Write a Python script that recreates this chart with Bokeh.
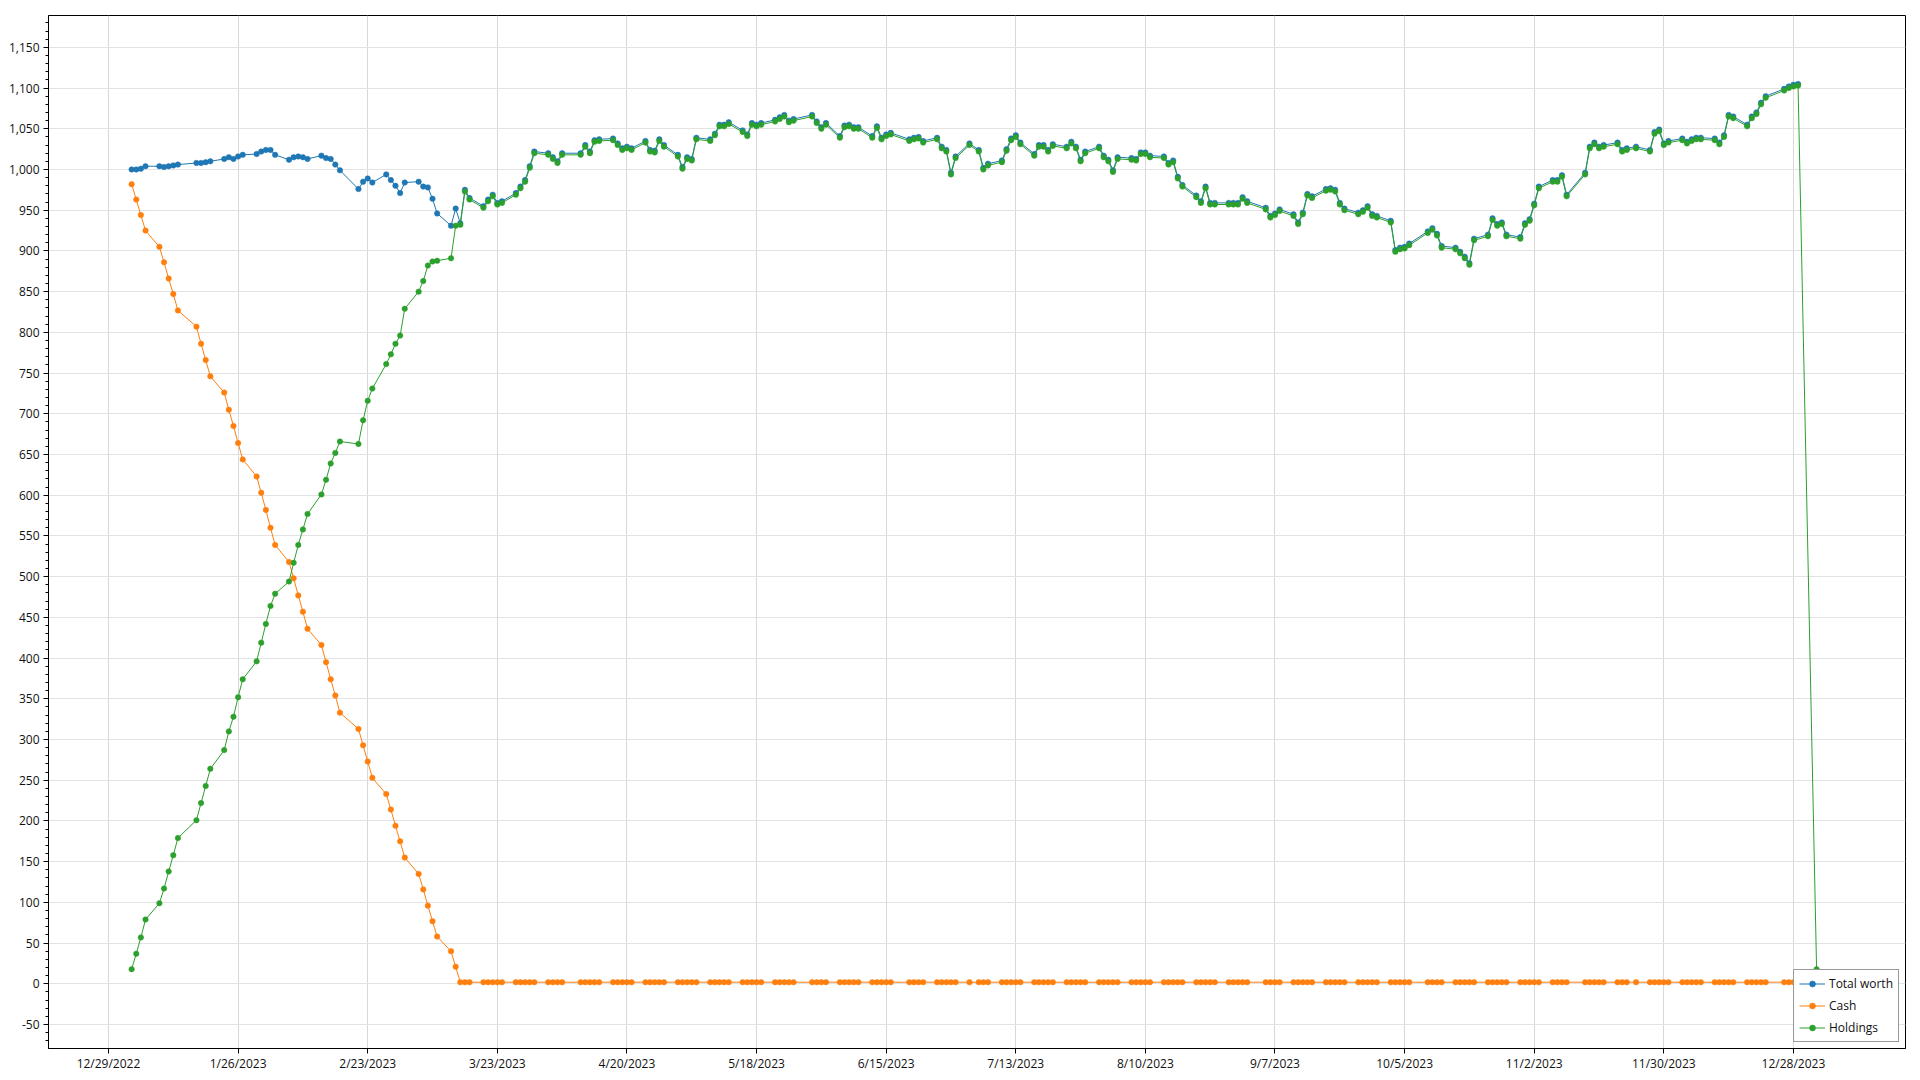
import pandas as pd
from bokeh.plotting import figure
from bokeh.models import Range1d, FixedTicker, NumeralTickFormatter, Legend, LegendItem, ColumnDataSource
from bokeh.embed import file_html
from bokeh.resources import INLINE

# ---------------- data ----------------
# trading days of 2023 (day of month), per month
days_jan = [3, 4, 5, 6, 9, 10, 11, 12, 13, 17, 18, 19, 20, 23, 24, 25, 26, 27, 30, 31]
days_feb = [1, 2, 3, 6, 7, 8, 9, 10, 13, 14, 15, 16, 17, 21, 22, 23, 24, 27, 28]
days_mar = [1, 2, 3, 6, 7, 8, 9, 10, 13, 14, 15, 16, 17, 20, 21, 22, 23, 24, 27, 28, 29, 30, 31]
days_apr = [3, 4, 5, 6, 10, 11, 12, 13, 14, 17, 18, 19, 20, 21, 24, 25, 26, 27, 28]
days_may = [1, 2, 3, 4, 5, 8, 9, 10, 11, 12, 15, 16, 17, 18, 19, 22, 23, 24, 25, 26, 30, 31]
days_jun = [1, 2, 5, 6, 7, 8, 9, 12, 13, 14, 15, 16, 20, 21, 22, 23, 26, 27, 28, 29, 30]
days_jul = [3, 5, 6, 7, 10, 11, 12, 13, 14, 17, 18, 19, 20, 21, 24, 25, 26, 27, 28, 31]
days_aug = [1, 2, 3, 4, 7, 8, 9, 10, 11, 14, 15, 16, 17, 18, 21, 22, 23, 24, 25, 28, 29, 30, 31]
days_sep = [1, 5, 6, 7, 8, 11, 12, 13, 14, 15, 18, 19, 20, 21, 22, 25, 26, 27, 28, 29]
days_oct = [2, 3, 4, 5, 6, 10, 11, 12, 13, 16, 17, 18, 19, 20, 23, 24, 25, 26, 27, 30, 31]
days_nov = [1, 2, 3, 6, 7, 8, 9, 13, 14, 15, 16, 17, 20, 21, 22, 24, 27, 28, 29, 30]
days_dec = [1, 4, 5, 6, 7, 8, 11, 12, 13, 14, 15, 18, 19, 20, 21, 22, 26, 27, 28, 29]
holdings_extra_date = "2024-01-02"

total_worth = [
    # Jan
    1000, 1000, 1001, 1004, 1004, 1003, 1004, 1005, 1006, 1008, 1008, 1009, 1010, 1013, 1015, 1013, 1016, 1018, 1019, 1022,
    # Feb
    1024, 1024, 1018, 1012, 1015, 1016, 1015, 1013, 1017, 1014, 1013, 1006, 999, 976, 985, 989, 984, 994, 987,
    # Mar
    980, 971, 984, 985, 979, 978, 964, 946, 931, 952, 934, 975, 965, 955, 963, 969, 959, 961, 971, 979, 987, 1004, 1022,
    # Apr
    1020, 1015, 1010, 1020, 1020, 1030, 1022, 1036, 1037, 1038, 1032, 1026, 1028, 1026, 1035, 1024, 1023, 1037, 1030,
    # May
    1018, 1003, 1015, 1013, 1039, 1037, 1044, 1055, 1055, 1058, 1048, 1043, 1057, 1055, 1057, 1061, 1064, 1067, 1060, 1062, 1067, 1059,
    # Jun
    1052, 1057, 1041, 1054, 1055, 1052, 1052, 1041, 1053, 1039, 1043, 1045, 1037, 1039, 1040, 1035, 1039, 1028, 1024, 996, 1016,
    # Jul
    1032, 1024, 1002, 1007, 1011, 1025, 1038, 1042, 1033, 1019, 1030, 1030, 1024, 1031, 1028, 1034, 1028, 1012, 1022, 1028,
    # Aug
    1017, 1012, 999, 1015, 1014, 1013, 1021, 1021, 1017, 1016, 1008, 1011, 991, 981, 968, 961, 979, 959, 959, 959, 959, 959, 966,
    # Sep
    961, 953, 943, 946, 951, 945, 935, 947, 970, 967, 976, 977, 975, 959, 952, 947, 950, 955, 945, 943,
    # Oct
    937, 901, 904, 905, 909, 924, 928, 921, 906, 904, 899, 893, 885, 915, 920, 940, 933, 935, 920, 917, 934,
    # Nov
    939, 958, 979, 987, 987, 993, 969, 996, 1028, 1033, 1028, 1030, 1033, 1024, 1026, 1028, 1024, 1046, 1049, 1032,
    # Dec
    1035, 1038, 1034, 1037, 1039, 1039, 1038, 1033, 1042, 1067, 1065, 1055, 1065, 1070, 1082, 1090, 1099, 1102, 1104, 1105,
]

cash = [
    # Jan
    982, 963, 944, 925, 905, 886, 866, 847, 827, 807, 786, 766, 746, 726, 705, 685, 664, 644, 623, 603,
    # Feb
    582, 560, 539, 518, 498, 477, 457, 436, 416, 395, 374, 354, 333, 313, 293, 273, 253, 233, 214,
    # Mar
    194, 175, 155, 135, 116, 96, 77, 58, 40, 21, 2, 2, 2, 2, 2, 2, 2, 2, 2, 2, 2, 2, 2,
    # Apr
    2, 2, 2, 2, 2, 2, 2, 2, 2, 2, 2, 2, 2, 2, 2, 2, 2, 2, 2,
    # May
    2, 2, 2, 2, 2, 2, 2, 2, 2, 2, 2, 2, 2, 2, 2, 2, 2, 2, 2, 2, 2, 2,
    # Jun
    2, 2, 2, 2, 2, 2, 2, 2, 2, 2, 2, 2, 2, 2, 2, 2, 2, 2, 2, 2, 2,
    # Jul
    2, 2, 2, 2, 2, 2, 2, 2, 2, 2, 2, 2, 2, 2, 2, 2, 2, 2, 2, 2,
    # Aug
    2, 2, 2, 2, 2, 2, 2, 2, 2, 2, 2, 2, 2, 2, 2, 2, 2, 2, 2, 2, 2, 2, 2,
    # Sep
    2, 2, 2, 2, 2, 2, 2, 2, 2, 2, 2, 2, 2, 2, 2, 2, 2, 2, 2, 2,
    # Oct
    2, 2, 2, 2, 2, 2, 2, 2, 2, 2, 2, 2, 2, 2, 2, 2, 2, 2, 2, 2, 2,
    # Nov
    2, 2, 2, 2, 2, 2, 2, 2, 2, 2, 2, 2, 2, 2, 2, 2, 2, 2, 2, 2,
    # Dec
    2, 2, 2, 2, 2, 2, 2, 2, 2, 2, 2, 2, 2, 2, 2, 2, 2, 2, 2, 2,
]

holdings = [
    # Jan
    18, 37, 57, 79, 99, 117, 138, 158, 179, 201, 222, 243, 264, 287, 310, 328, 352, 374, 396, 419,
    # Feb
    442, 464, 479, 494, 517, 539, 558, 577, 601, 619, 639, 652, 666, 663, 692, 716, 731, 761, 773,
    # Mar
    786, 796, 829, 850, 863, 882, 887, 888, 891, 931, 932, 973, 963, 953, 961, 967, 957, 959, 969, 977, 985, 1002, 1020,
    # Apr
    1018, 1013, 1008, 1018, 1018, 1028, 1020, 1034, 1035, 1036, 1030, 1024, 1026, 1024, 1033, 1022, 1021, 1035, 1028,
    # May
    1016, 1001, 1013, 1011, 1037, 1035, 1042, 1053, 1053, 1056, 1046, 1041, 1055, 1053, 1055, 1059, 1062, 1065, 1058, 1060, 1065, 1057,
    # Jun
    1050, 1055, 1039, 1052, 1053, 1050, 1050, 1039, 1051, 1037, 1041, 1043, 1035, 1037, 1038, 1033, 1037, 1026, 1022, 994, 1014,
    # Jul
    1030, 1022, 1000, 1005, 1009, 1023, 1036, 1040, 1031, 1017, 1028, 1028, 1022, 1029, 1026, 1032, 1026, 1010, 1020, 1026,
    # Aug
    1015, 1010, 997, 1013, 1012, 1011, 1019, 1019, 1015, 1014, 1006, 1009, 989, 979, 966, 959, 977, 957, 957, 957, 957, 957, 964,
    # Sep
    959, 951, 941, 944, 949, 943, 933, 945, 968, 965, 974, 975, 973, 957, 950, 945, 948, 953, 943, 941,
    # Oct
    935, 899, 902, 903, 907, 922, 926, 919, 904, 902, 897, 891, 883, 913, 918, 938, 931, 933, 918, 915, 932,
    # Nov
    937, 956, 977, 985, 985, 991, 967, 994, 1026, 1031, 1026, 1028, 1031, 1022, 1024, 1026, 1022, 1044, 1047, 1030,
    # Dec
    1033, 1036, 1032, 1035, 1037, 1037, 1036, 1031, 1040, 1065, 1063, 1053, 1063, 1068, 1080, 1088, 1097, 1100, 1102, 1103,
    # first day of 2024
    18,
]

series_names = ["Total worth", "Cash", "Holdings"]
series_colors = ["#1f77b4", "#ff7f0e", "#2ca02c"]

# ---------------- build dates ----------------
month_days = [days_jan, days_feb, days_mar, days_apr, days_may, days_jun,
              days_jul, days_aug, days_sep, days_oct, days_nov, days_dec]
dates = []
for m, dl in enumerate(month_days, start=1):
    for d in dl:
        dates.append(pd.Timestamp(2023, m, d))
holdings_dates = dates + [pd.Timestamp(holdings_extra_date)]

assert len(dates) == len(total_worth) == len(cash), (len(dates), len(total_worth), len(cash))
assert len(holdings_dates) == len(holdings)

FONT = "Open Sans"

p = figure(
    width=1920, height=1080,
    x_axis_type="datetime",
    x_range=Range1d(pd.Timestamp("2022-12-16 01:00"), pd.Timestamp("2024-01-21 05:00")),
    y_range=Range1d(-79.4, 1189.1),
    output_backend="svg", toolbar_location=None,
    min_border_left=48, min_border_right=15, min_border_top=15, min_border_bottom=32,
)
p.background_fill_color = "white"
p.border_fill_color = "white"
p.outline_line_color = "black"
p.outline_line_width = 1
p.outline_line_alpha = 1

# x ticks every 4 weeks
tick_dates = pd.date_range("2022-12-29", periods=14, freq="28D")
tick_ms = [float(d.value // 10**6) for d in tick_dates]
p.xaxis.ticker = FixedTicker(ticks=tick_ms, minor_ticks=[])
p.xaxis.major_label_overrides = {t: f"{d.month}/{d.day}/{d.year}" for t, d in zip(tick_ms, tick_dates)}

p.yaxis.ticker = FixedTicker(ticks=list(range(-50, 1151, 50)), minor_ticks=list(range(-70, 1190, 10)))
p.yaxis.formatter = NumeralTickFormatter(format="0,0")

for ax in (p.xaxis[0], p.yaxis[0]):
    ax.axis_line_color = "black"
    ax.axis_line_width = 1
    ax.major_tick_line_color = "black"
    ax.minor_tick_line_color = "black"
    ax.major_tick_in = 0
    ax.major_tick_out = 5
    ax.minor_tick_in = 0
    ax.minor_tick_out = 3
    ax.major_label_text_font = FONT
    ax.major_label_text_font_size = "12px"
    ax.major_label_text_color = "#111111"
p.xaxis.major_label_standoff = 1
p.yaxis.major_label_standoff = 4

p.xgrid.grid_line_color = "#d9d9d9"
p.ygrid.grid_line_color = "#e3e3e3"

items = []
for name, color, xs, ys in zip(series_names, series_colors,
                               [dates, dates, holdings_dates],
                               [total_worth, cash, holdings]):
    src = ColumnDataSource(dict(x=xs, y=ys))
    ln = p.line("x", "y", source=src, line_color=color, line_width=1)
    sc = p.scatter("x", "y", source=src, size=5.5, fill_color=color, line_color=color, line_width=0.5)
    items.append(LegendItem(label=name, renderers=[ln, sc]))

legend = Legend(items=items, location="bottom_right")
legend.border_line_color = "#333333"
legend.border_line_width = 1
legend.background_fill_color = "white"
legend.background_fill_alpha = 1
legend.label_text_font = FONT
legend.label_text_font_size = "12px"
legend.label_text_color = "#111111"
legend.glyph_width = 26
legend.glyph_height = 15
legend.label_height = 15
legend.spacing = 5
legend.padding = 5
legend.margin = 6
legend.label_standoff = 4
p.add_layout(legend)

open("out.html", "w").write(file_html(p, INLINE))
